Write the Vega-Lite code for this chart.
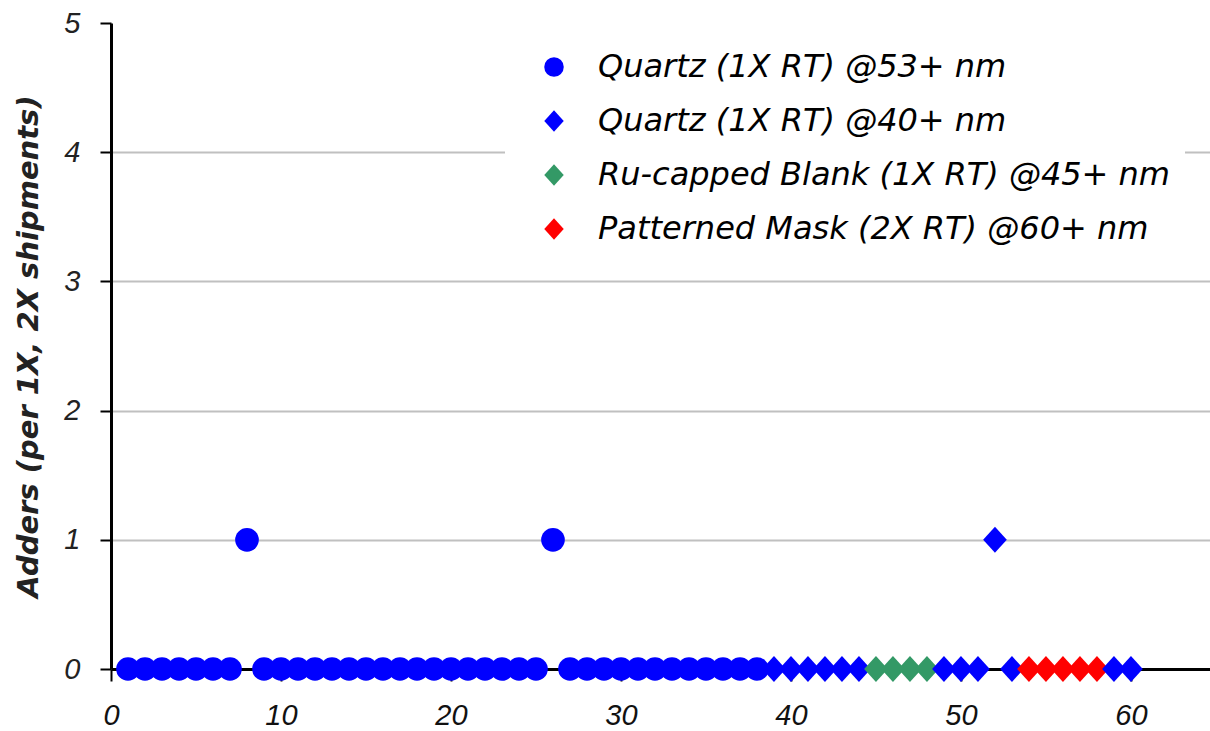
{
  "$schema": "https://vega.github.io/schema/vega-lite/v6.json",
  "width": 1099,
  "height": 646,
  "autosize": {"type": "none"},
  "padding": {"left": 111, "top": 23, "right": 0, "bottom": 62},
  "background": "white",
  "config": {"view": {"stroke": null}, "font": "DejaVu Sans"},
  "data": {
    "values": [
      {"x": 1, "y": 0, "s": "Quartz (1X RT) @53+ nm"},
      {"x": 2, "y": 0, "s": "Quartz (1X RT) @53+ nm"},
      {"x": 3, "y": 0, "s": "Quartz (1X RT) @53+ nm"},
      {"x": 4, "y": 0, "s": "Quartz (1X RT) @53+ nm"},
      {"x": 5, "y": 0, "s": "Quartz (1X RT) @53+ nm"},
      {"x": 6, "y": 0, "s": "Quartz (1X RT) @53+ nm"},
      {"x": 7, "y": 0, "s": "Quartz (1X RT) @53+ nm"},
      {"x": 8, "y": 1, "s": "Quartz (1X RT) @53+ nm"},
      {"x": 9, "y": 0, "s": "Quartz (1X RT) @53+ nm"},
      {"x": 10, "y": 0, "s": "Quartz (1X RT) @53+ nm"},
      {"x": 11, "y": 0, "s": "Quartz (1X RT) @53+ nm"},
      {"x": 12, "y": 0, "s": "Quartz (1X RT) @53+ nm"},
      {"x": 13, "y": 0, "s": "Quartz (1X RT) @53+ nm"},
      {"x": 14, "y": 0, "s": "Quartz (1X RT) @53+ nm"},
      {"x": 15, "y": 0, "s": "Quartz (1X RT) @53+ nm"},
      {"x": 16, "y": 0, "s": "Quartz (1X RT) @53+ nm"},
      {"x": 17, "y": 0, "s": "Quartz (1X RT) @53+ nm"},
      {"x": 18, "y": 0, "s": "Quartz (1X RT) @53+ nm"},
      {"x": 19, "y": 0, "s": "Quartz (1X RT) @53+ nm"},
      {"x": 20, "y": 0, "s": "Quartz (1X RT) @53+ nm"},
      {"x": 21, "y": 0, "s": "Quartz (1X RT) @53+ nm"},
      {"x": 22, "y": 0, "s": "Quartz (1X RT) @53+ nm"},
      {"x": 23, "y": 0, "s": "Quartz (1X RT) @53+ nm"},
      {"x": 24, "y": 0, "s": "Quartz (1X RT) @53+ nm"},
      {"x": 25, "y": 0, "s": "Quartz (1X RT) @53+ nm"},
      {"x": 26, "y": 1, "s": "Quartz (1X RT) @53+ nm"},
      {"x": 27, "y": 0, "s": "Quartz (1X RT) @53+ nm"},
      {"x": 28, "y": 0, "s": "Quartz (1X RT) @53+ nm"},
      {"x": 29, "y": 0, "s": "Quartz (1X RT) @53+ nm"},
      {"x": 30, "y": 0, "s": "Quartz (1X RT) @53+ nm"},
      {"x": 31, "y": 0, "s": "Quartz (1X RT) @53+ nm"},
      {"x": 32, "y": 0, "s": "Quartz (1X RT) @53+ nm"},
      {"x": 33, "y": 0, "s": "Quartz (1X RT) @53+ nm"},
      {"x": 34, "y": 0, "s": "Quartz (1X RT) @53+ nm"},
      {"x": 35, "y": 0, "s": "Quartz (1X RT) @53+ nm"},
      {"x": 36, "y": 0, "s": "Quartz (1X RT) @53+ nm"},
      {"x": 37, "y": 0, "s": "Quartz (1X RT) @53+ nm"},
      {"x": 38, "y": 0, "s": "Quartz (1X RT) @53+ nm"},
      {"x": 39, "y": 0, "s": "Quartz (1X RT) @40+ nm"},
      {"x": 40, "y": 0, "s": "Quartz (1X RT) @40+ nm"},
      {"x": 41, "y": 0, "s": "Quartz (1X RT) @40+ nm"},
      {"x": 42, "y": 0, "s": "Quartz (1X RT) @40+ nm"},
      {"x": 43, "y": 0, "s": "Quartz (1X RT) @40+ nm"},
      {"x": 44, "y": 0, "s": "Quartz (1X RT) @40+ nm"},
      {"x": 45, "y": 0, "s": "Ru-capped Blank (1X RT) @45+ nm"},
      {"x": 46, "y": 0, "s": "Ru-capped Blank (1X RT) @45+ nm"},
      {"x": 47, "y": 0, "s": "Ru-capped Blank (1X RT) @45+ nm"},
      {"x": 48, "y": 0, "s": "Ru-capped Blank (1X RT) @45+ nm"},
      {"x": 49, "y": 0, "s": "Quartz (1X RT) @40+ nm"},
      {"x": 50, "y": 0, "s": "Quartz (1X RT) @40+ nm"},
      {"x": 51, "y": 0, "s": "Quartz (1X RT) @40+ nm"},
      {"x": 52, "y": 1, "s": "Quartz (1X RT) @40+ nm"},
      {"x": 53, "y": 0, "s": "Quartz (1X RT) @40+ nm"},
      {"x": 54, "y": 0, "s": "Patterned Mask (2X RT) @60+ nm"},
      {"x": 55, "y": 0, "s": "Patterned Mask (2X RT) @60+ nm"},
      {"x": 56, "y": 0, "s": "Patterned Mask (2X RT) @60+ nm"},
      {"x": 57, "y": 0, "s": "Patterned Mask (2X RT) @60+ nm"},
      {"x": 58, "y": 0, "s": "Patterned Mask (2X RT) @60+ nm"},
      {"x": 59, "y": 0, "s": "Quartz (1X RT) @40+ nm"},
      {"x": 60, "y": 0, "s": "Quartz (1X RT) @40+ nm"}
    ]
  },
  "mark": {"type": "point", "filled": true, "opacity": 1, "size": 560},
  "encoding": {
    "x": {
      "field": "x",
      "type": "quantitative",
      "scale": {"domain": [0, 64.65], "nice": false, "zero": true},
      "axis": {
        "values": [0, 10, 20, 30, 40, 50, 60],
        "title": null,
        "grid": false,
        "domainColor": "black",
        "domainWidth": 3,
        "tickColor": "black",
        "tickWidth": 2,
        "tickSize": 12,
        "labelFont": "Liberation Sans",
        "labelFontStyle": "italic",
        "labelFontSize": 29,
        "labelColor": "#111111",
        "labelPadding": 20,
        "labelFlush": false,
        "labelOverlap": false
      }
    },
    "y": {
      "field": "y",
      "type": "quantitative",
      "scale": {"domain": [0, 5], "nice": false},
      "axis": {
        "values": [0, 1, 2, 3, 4, 5],
        "title": "Adders (per 1X, 2X shipments)",
        "titleFont": "DejaVu Sans",
        "titleFontSize": 29,
        "titleFontStyle": "italic",
        "titleFontWeight": "bold",
        "titleColor": "#222222",
        "titlePadding": 20,
        "grid": true,
        "gridColor": "#c0c0c0",
        "gridWidth": 2,
        "gridOpacity": {"condition": {"test": "datum.value == 0 || datum.value == 5", "value": 0}, "value": 1},
        "domainColor": "black",
        "domainWidth": 3,
        "tickColor": "black",
        "tickWidth": 2,
        "tickSize": 11,
        "labelFont": "Liberation Sans",
        "labelFontStyle": "italic",
        "labelFontSize": 29,
        "labelColor": "#222222",
        "labelPadding": 20,
        "labelFlush": false
      }
    },
    "color": {
      "field": "s",
      "type": "nominal",
      "scale": {
        "domain": ["Quartz (1X RT) @53+ nm", "Quartz (1X RT) @40+ nm", "Ru-capped Blank (1X RT) @45+ nm", "Patterned Mask (2X RT) @60+ nm"],
        "range": ["#0000ff", "#0000ff", "#339966", "#ff0000"]
      },
      "legend": {
        "orient": "none",
        "legendX": 394,
        "legendY": 14,
        "title": null,
        "fillColor": "white",
        "padding": 14,
        "symbolOffset": 19,
        "symbolSize": 380,
        "symbolStrokeWidth": 0,
        "labelFont": "DejaVu Sans",
        "labelFontSize": 32,
        "labelFontStyle": "italic",
        "labelColor": "#000000",
        "labelOffset": 28,
        "labelLimit": 0,
        "rowPadding": 22
      }
    },
    "shape": {
      "field": "s",
      "type": "nominal",
      "scale": {
        "domain": ["Quartz (1X RT) @53+ nm", "Quartz (1X RT) @40+ nm", "Ru-capped Blank (1X RT) @45+ nm", "Patterned Mask (2X RT) @60+ nm"],
        "range": ["circle", "M0,-1.1L1,0L0,1.1L-1,0Z", "M0,-1.1L1,0L0,1.1L-1,0Z", "M0,-1.1L1,0L0,1.1L-1,0Z"]
      }
    }
  }
}
